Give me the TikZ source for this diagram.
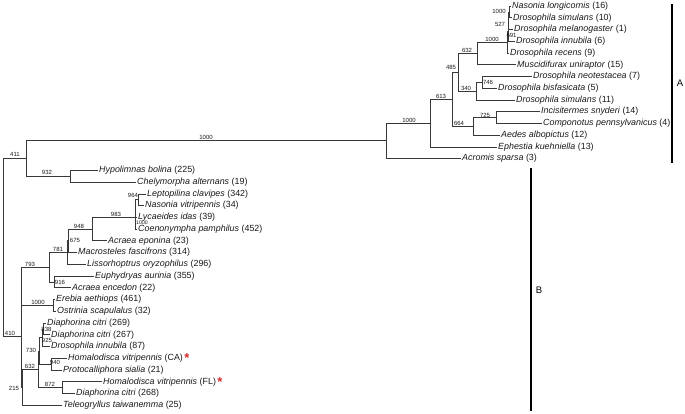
\documentclass[tikz,border=0pt]{standalone}
\usepackage{fontspec}
\setmainfont{Liberation Sans}
\definecolor{starred}{HTML}{D42A2A}
\begin{document}
\begin{tikzpicture}[x=1pt,y=-1pt,
  br/.style={draw=black!78, line width=0.65pt},
  leaf/.style={anchor=west, inner sep=1pt, font=\fontsize{8.9}{10}\selectfont, text=black!90},
  bs/.style={inner sep=0pt, font=\fontsize{6}{6}\selectfont, text=black!90},
  bar/.style={draw=black, line width=1.1pt},
  grp/.style={inner sep=0pt, font=\fontsize{9.5}{10}\selectfont}]
\useasboundingbox (0,0) rectangle (685,413);
\newcommand{\tstar}{\,{\color{starred}\fontsize{13}{13}\selectfont\bfseries\raisebox{-1.8pt}{*}}}
% ---------- internal nodes ----------
\coordinate (root) at (3,247);
\coordinate (n411) at (26,158.5);
\coordinate (nA11) at (386,140.8);
\coordinate (nA10) at (430,123.07);
\coordinate (nA8) at (452,99.25);
\coordinate (nA7) at (458,72.2);
\coordinate (nA5) at (477,53.33);
\coordinate (nA4) at (507,41.96);
\coordinate (nA3) at (508,30.96);
\coordinate (nA2) at (508.5,20.7);
\coordinate (nA1) at (509,11.87);
\coordinate (nA6) at (476,91.1);
\coordinate (nA6a) at (482,82.31);
\coordinate (nA9) at (473,126.3);
\coordinate (nA9a) at (496,117.53);
\coordinate (n932) at (70,176.23);
\coordinate (n410) at (21,336.75);
\coordinate (nZ) at (21.5,286.3);
\coordinate (n793) at (49,267.2);
\coordinate (n781) at (67,252.5);
\coordinate (n675) at (68,240.7);
\coordinate (n948) at (92,229.05);
\coordinate (n983) at (135,217.3);
\coordinate (n964) at (138,199.7);
\coordinate (n916) at (54,281.9);
\coordinate (nE) at (53,305.37);
\coordinate (n215) at (22.5,387.2);
\coordinate (n632) at (38,369.2);
\coordinate (n730) at (39,350.87);
\coordinate (n925) at (42.5,337.66);
\coordinate (n838) at (43.5,328.85);
\coordinate (n940) at (51,364.07);
\coordinate (n872) at (62,387.55);
% ---------- leaves ----------
\node[leaf] (L0) at (511,6.0) {\textit{Nasonia longicornis} (16)};
\node[leaf] (L1) at (512,17.74) {\textit{Drosophila simulans} (10)};
\node[leaf] (L2) at (513,29.48) {\textit{Drosophila melanogaster} (1)};
\node[leaf] (L3) at (515,41.22) {\textit{Drosophila innubila} (6)};
\node[leaf] (L4) at (509,52.96) {\textit{Drosophila recens} (9)};
\node[leaf] (L5) at (516,64.7) {\textit{Muscidifurax uniraptor} (15)};
\node[leaf] (L6) at (532,76.44) {\textit{Drosophila neotestacea} (7)};
\node[leaf] (L7) at (497,88.18) {\textit{Drosophila bisfasicata} (5)};
\node[leaf] (L8) at (515,99.92) {\textit{Drosophila simulans} (11)};
\node[leaf] (L9) at (540,111.66) {\textit{Incisitermes snyderi} (14)};
\node[leaf] (L10) at (542,123.4) {\textit{Componotus pennsylvanicus} (4)};
\node[leaf] (L11) at (500,135.14) {\textit{Aedes albopictus} (12)};
\node[leaf] (L12) at (497,146.88) {\textit{Ephestia kuehniella} (13)};
\node[leaf] (L13) at (461,158.62) {\textit{Acromis sparsa} (3)};
\node[leaf] (L14) at (98,170.36) {\textit{Hypolimnas bolina} (225)};
\node[leaf] (L15) at (136,182.1) {\textit{Chelymorpha alternans} (19)};
\node[leaf] (L16) at (146,193.84) {\textit{Leptopilina clavipes} (342)};
\node[leaf] (L17) at (144,205.58) {\textit{Nasonia vitripennis} (34)};
\node[leaf] (L18) at (137,217.32) {\textit{Lycaeides idas} (39)};
\node[leaf] (L19) at (137,229.06) {\textit{Coenonympha pamphilus} (452)};
\node[leaf] (L20) at (107,240.8) {\textit{Acraea eponina} (23)};
\node[leaf] (L21) at (77,252.54) {\textit{Macrosteles fascifrons} (314)};
\node[leaf] (L22) at (86,264.28) {\textit{Lissorhoptrus oryzophilus} (296)};
\node[leaf] (L23) at (94,276.02) {\textit{Euphydryas aurinia} (355)};
\node[leaf] (L24) at (71,287.76) {\textit{Acraea encedon} (22)};
\node[leaf] (L25) at (55,299.5) {\textit{Erebia aethiops} (461)};
\node[leaf] (L26) at (56,311.24) {\textit{Ostrinia scapulalus} (32)};
\node[leaf] (L27) at (46,322.98) {\textit{Diaphorina citri} (269)};
\node[leaf] (L28) at (50,334.72) {\textit{Diaphorina citri} (267)};
\node[leaf] (L29) at (50,346.46) {\textit{Drosophila innubila} (87)};
\node[leaf] (L30) at (67,358.2) {\textit{Homalodisca vitripennis} (CA)\tstar};
\node[leaf] (L31) at (62,369.94) {\textit{Protocalliphora sialia} (21)};
\node[leaf] (L32) at (102,381.68) {\textit{Homalodisca vitripennis} (FL)\tstar};
\node[leaf] (L33) at (75,393.42) {\textit{Diaphorina citri} (268)};
\node[leaf] (L34) at (62,405.16) {\textit{Teleogryllus taiwanemma} (25)};
% ---------- branches ----------
\draw[br] (root) |- (n411);
\draw[br] (root) |- (n410);
\draw[br] (n411) |- (nA11);
\draw[br] (n411) |- (n932);
\draw[br] (nA11) |- (nA10);
\draw[br] (nA11) |- (L13.west);
\draw[br] (nA10) |- (nA8);
\draw[br] (nA10) |- (L12.west);
\draw[br] (nA8) |- (nA7);
\draw[br] (nA8) |- (nA9);
\draw[br] (nA7) |- (nA5);
\draw[br] (nA7) |- (nA6);
\draw[br] (nA5) |- (nA4);
\draw[br] (nA5) |- (L5.west);
\draw[br] (nA4) |- (nA3);
\draw[br] (nA4) |- (L4.west);
\draw[br] (nA3) |- (nA2);
\draw[br] (nA3) |- (L3.west);
\draw[br] (nA2) |- (nA1);
\draw[br] (nA2) |- (L2.west);
\draw[br] (nA1) |- (L0.west);
\draw[br] (nA1) |- (L1.west);
\draw[br] (nA6) |- (nA6a);
\draw[br] (nA6) |- (L8.west);
\draw[br] (nA6a) |- (L6.west);
\draw[br] (nA6a) |- (L7.west);
\draw[br] (nA9) |- (nA9a);
\draw[br] (nA9) |- (L11.west);
\draw[br] (nA9a) |- (L9.west);
\draw[br] (nA9a) |- (L10.west);
\draw[br] (n932) |- (L14.west);
\draw[br] (n932) |- (L15.west);
\draw[br] (n410) |- (nZ);
\draw[br] (n410) |- (n215);
\draw[br] (nZ) |- (n793);
\draw[br] (nZ) |- (nE);
\draw[br] (n793) |- (n781);
\draw[br] (n793) |- (n916);
\draw[br] (n781) |- (n675);
\draw[br] (n781) |- (L22.west);
\draw[br] (n675) |- (n948);
\draw[br] (n675) |- (L21.west);
\draw[br] (n948) |- (n983);
\draw[br] (n948) |- (L20.west);
\draw[br] (n983) |- (n964);
\draw[br] (n983) |- (L18.west);
\draw[br] (n983) |- (L19.west);
\draw[br] (n964) |- (L16.west);
\draw[br] (n964) |- (L17.west);
\draw[br] (n916) |- (L23.west);
\draw[br] (n916) |- (L24.west);
\draw[br] (nE) |- (L25.west);
\draw[br] (nE) |- (L26.west);
\draw[br] (n215) |- (n632);
\draw[br] (n215) |- (L34.west);
\draw[br] (n632) |- (n730);
\draw[br] (n632) |- (n872);
\draw[br] (n730) |- (n925);
\draw[br] (n730) |- (n940);
\draw[br] (n925) |- (n838);
\draw[br] (n925) |- (L29.west);
\draw[br] (n838) |- (L27.west);
\draw[br] (n838) |- (L28.west);
\draw[br] (n940) |- (L30.west);
\draw[br] (n940) |- (L31.west);
\draw[br] (n872) |- (L32.west);
\draw[br] (n872) |- (L33.west);
% ---------- support values ----------
\node[bs] (b1) at (206,137) {1000};
\node[bs] (b2) at (15,154) {411};
\node[bs] (b3) at (47,172) {932};
\node[bs] (b4) at (409,120) {1000};
\node[bs] (b5) at (441,96) {613};
\node[bs] (b6) at (451,67) {485};
\node[bs] (b7) at (467,50) {632};
\node[bs] (b8) at (492,39) {1000};
\node[bs] (b9) at (499,11) {1000};
\node[bs] (b10) at (500,24) {527};
\node[bs] (b11) at (511.5,35) {691};
\node[bs] (b12) at (488,82) {746};
\node[bs] (b13) at (466,88) {340};
\node[bs] (b14) at (459,123) {664};
\node[bs] (b15) at (485,115) {725};
\node[bs] (b16) at (133,195) {964};
\node[bs] (b17) at (116,214) {983};
\node[bs, font=\fontsize{5.2}{5.2}\selectfont] (b18) at (142,222.5) {1000};
\node[bs] (b19) at (79,226) {948};
\node[bs] (b20) at (75,240) {675};
\node[bs] (b21) at (58,249) {781};
\node[bs] (b22) at (30,264) {793};
\node[bs] (b23) at (60,282) {916};
\node[bs] (b24) at (38,302) {1000};
\node[bs] (b25) at (10,333) {410};
\node[bs] (b26) at (46.5,329) {838};
\node[bs] (b27) at (47,340) {925};
\node[bs] (b28) at (31,350) {730};
\node[bs] (b29) at (55,362) {940};
\node[bs] (b30) at (30,366) {632};
\node[bs] (b31) at (14,388) {215};
\node[bs] (b32) at (50,384) {872};
% ---------- group bars ----------
\coordinate (Atop) at (672,4);
\coordinate (Abot) at (672,163);
\draw[bar] (Atop) -- (Abot);
\node[grp] (Alab) at (680,83.5) {A};
\coordinate (Btop) at (531,168);
\coordinate (Bbot) at (531,411);
\draw[bar] (Btop) -- (Bbot);
\node[grp] (Blab) at (539,290) {B};
\end{tikzpicture}
\end{document}
